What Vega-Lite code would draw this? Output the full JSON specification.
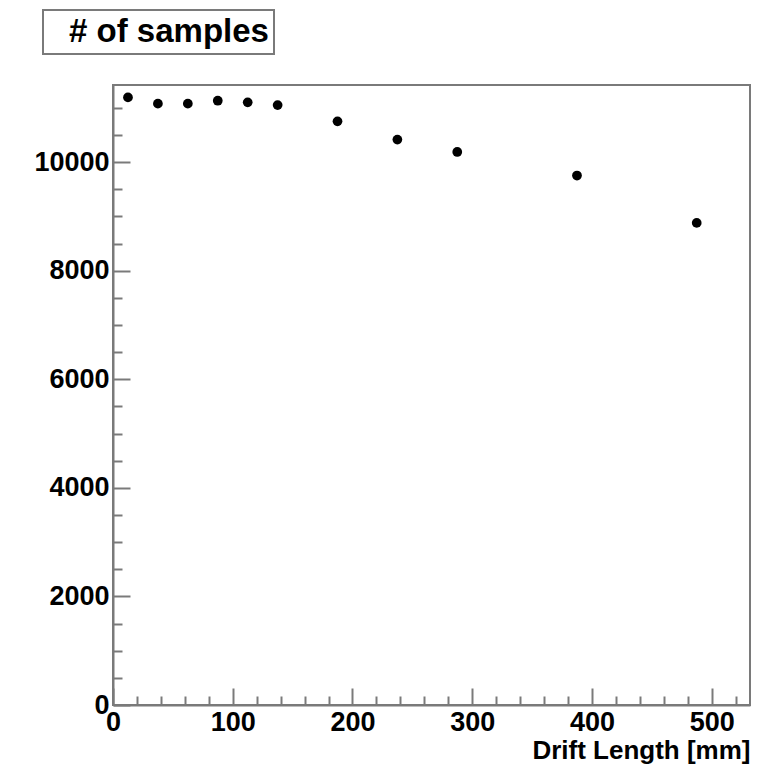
{
  "$schema": "https://vega.github.io/schema/vega-lite/v6.json",
  "background": "white",
  "padding": {"left": 33, "top": 9, "right": 5, "bottom": 4},
  "width": 637,
  "height": 620,
  "config": {
    "view": {"stroke": "#7a7a7a", "strokeWidth": 2},
    "font": "Liberation Sans",
    "axis": {
      "grid": false,
      "domainColor": "#7a7a7a",
      "domainWidth": 2,
      "tickColor": "#7a7a7a",
      "tickWidth": 2,
      "labelFont": "Liberation Sans",
      "labelFontWeight": "bold",
      "labelFontSize": 27,
      "labelColor": "black",
      "titleFont": "Liberation Sans",
      "titleFontWeight": "bold",
      "titleFontSize": 26,
      "titleColor": "black",
      "labelFlush": false,
      "labelOverlap": false
    },
    "legend": {
      "strokeColor": "#7a7a7a",
      "strokeWidth": 2,
      "fillColor": "white",
      "padding": 5,
      "labelFont": "Liberation Sans",
      "labelFontWeight": "bold",
      "labelFontSize": 33,
      "labelColor": "black",
      "labelOffset": -12,
      "symbolSize": 0,
      "symbolStrokeWidth": 0,
      "symbolOpacity": 0,
      "labelLimit": 400
    }
  },
  "data": {
    "values": [
      {"drift_mm": 12.5, "samples": 11192, "series": "# of samples"},
      {"drift_mm": 37.5, "samples": 11076, "series": "# of samples"},
      {"drift_mm": 62.5, "samples": 11076, "series": "# of samples"},
      {"drift_mm": 87.5, "samples": 11131, "series": "# of samples"},
      {"drift_mm": 112.5, "samples": 11100, "series": "# of samples"},
      {"drift_mm": 137.5, "samples": 11050, "series": "# of samples"},
      {"drift_mm": 187.5, "samples": 10750, "series": "# of samples"},
      {"drift_mm": 237.5, "samples": 10414, "series": "# of samples"},
      {"drift_mm": 287.5, "samples": 10186, "series": "# of samples"},
      {"drift_mm": 387.5, "samples": 9752, "series": "# of samples"},
      {"drift_mm": 487.5, "samples": 8880, "series": "# of samples"}
    ]
  },
  "mark": {"type": "circle", "size": 95, "opacity": 1},
  "encoding": {
    "x": {
      "field": "drift_mm",
      "type": "quantitative",
      "scale": {"domain": [0, 532], "nice": false, "zero": false},
      "axis": {
        "values": [0, 20, 40, 60, 80, 100, 120, 140, 160, 180, 200, 220, 240, 260, 280, 300, 320, 340, 360, 380, 400, 420, 440, 460, 480, 500, 520],
        "format": "d",
        "labelExpr": "datum.value % 100 == 0 ? datum.label : ''",
        "tickSize": {"condition": {"test": "datum.value % 100 == 0", "value": -17}, "value": -9},
        "labelPadding": 21,
        "title": "Drift Length [mm]",
        "titleAnchor": "end",
        "titlePadding": -6
      }
    },
    "y": {
      "field": "samples",
      "type": "quantitative",
      "scale": {"domain": [0, 11420], "nice": false, "zero": false},
      "axis": {
        "values": [0, 500, 1000, 1500, 2000, 2500, 3000, 3500, 4000, 4500, 5000, 5500, 6000, 6500, 7000, 7500, 8000, 8500, 9000, 9500, 10000, 10500, 11000],
        "format": "d",
        "labelExpr": "datum.value % 2000 == 0 ? datum.label : ''",
        "tickSize": {"condition": {"test": "datum.value % 2000 == 0", "value": -17}, "value": -9},
        "labelPadding": 21,
        "title": null
      }
    },
    "color": {
      "field": "series",
      "type": "nominal",
      "scale": {"range": ["black"]},
      "legend": {
        "title": null,
        "orient": "none",
        "legendX": -70,
        "legendY": -75
      }
    }
  }
}
